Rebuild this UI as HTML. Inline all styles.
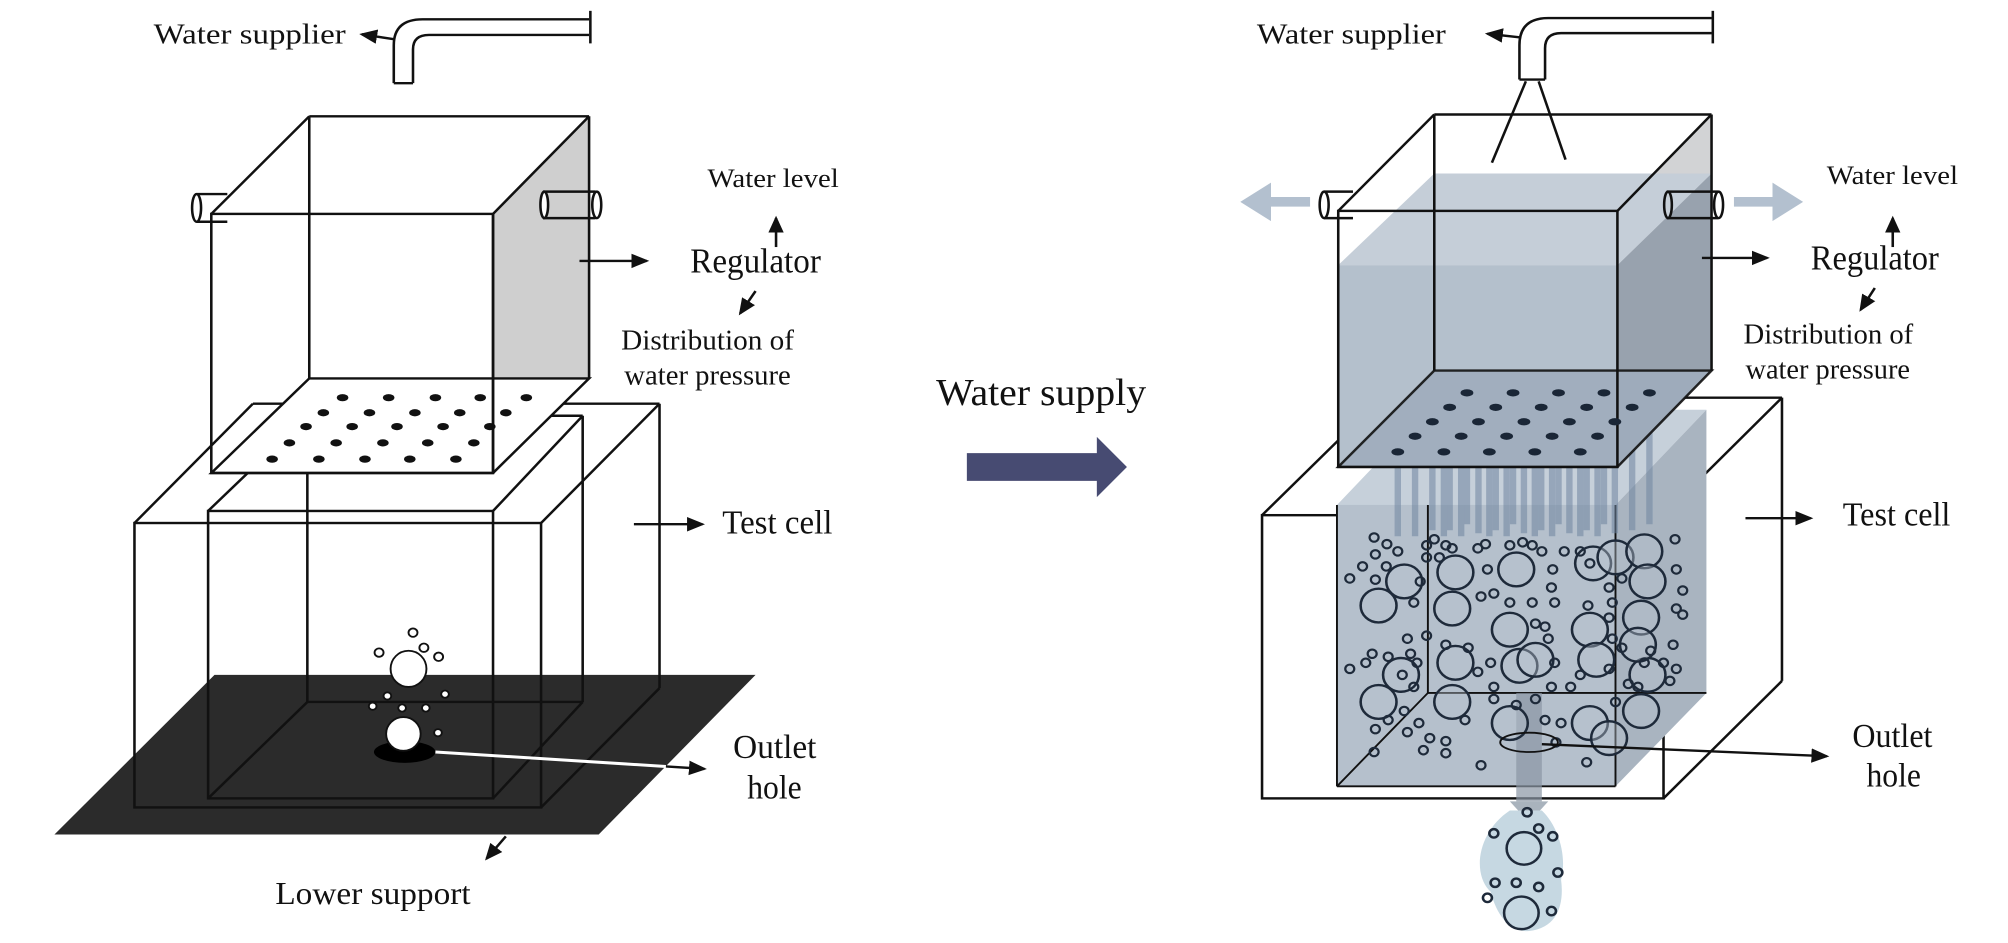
<!DOCTYPE html>
<html><head><meta charset="utf-8"><style>
html,body{margin:0;padding:0;background:#fff;}
svg{display:block;}
text{font-family:"Liberation Serif",serif;fill:#111;}
</style></head><body>
<svg width="2008" height="943" viewBox="0 0 3136 1565" preserveAspectRatio="none" xmlns="http://www.w3.org/2000/svg">
<defs>
<marker id="ah" markerWidth="8" markerHeight="8" refX="6" refY="4" orient="auto" markerUnits="strokeWidth"><path d="M0,1 L7,4 L0,7 z" fill="#111"/></marker>
<marker id="fa" markerWidth="4" markerHeight="4" refX="2" refY="2" orient="auto" markerUnits="strokeWidth"><path d="M0,0 L3,2 L0,4 z" fill="#b3c0cf"/></marker>
</defs>
<g stroke="#111" stroke-width="4" fill="none">
<!-- LEFT -->
<text x="240" y="72" font-size="48" textLength="300" lengthAdjust="spacingAndGlyphs" stroke="none">Water supplier</text>
<line x1="615" y1="65" x2="565" y2="57" marker-end="url(#ah)"/>
<path d="M615,138 L615,75 Q615,32 660,32 L920,32"/>
<path d="M645,138 L645,82 Q645,58 670,58 L920,58"/>
<line x1="615" y1="138" x2="645" y2="138"/>
<line x1="922" y1="18" x2="922" y2="72"/>
<!-- base -->
<polygon points="85,1385 935,1385 1180,1120 335,1120" fill="#2b2b2b" stroke="none"/>
<!-- test cell outer -->
<rect x="210" y="868" width="635" height="472"/>
<line x1="210" y1="868" x2="395" y2="670"/>
<line x1="845" y1="868" x2="1030" y2="670"/>
<line x1="845" y1="1340" x2="1030" y2="1142"/>
<line x1="395" y1="670" x2="1030" y2="670"/>
<line x1="1030" y1="670" x2="1030" y2="1142"/>
<!-- inner -->
<rect x="325" y="848" width="445" height="477"/>
<line x1="325" y1="848" x2="480" y2="690"/>
<line x1="770" y1="848" x2="910" y2="690"/>
<line x1="770" y1="1325" x2="910" y2="1165"/>
<line x1="325" y1="1325" x2="480" y2="1165"/>
<line x1="480" y1="690" x2="910" y2="690"/>
<line x1="480" y1="690" x2="480" y2="1165"/>
<line x1="910" y1="690" x2="910" y2="1165"/>
<line x1="480" y1="1165" x2="910" y2="1165"/>
<!-- upper box -->
<polygon points="770,355 920,193 920,628 770,785" fill="#cfcfcf" stroke="none"/>
<path d="M307,322 L355,322 M307,368 L355,368"/><ellipse cx="307" cy="345" rx="7" ry="23" fill="#fff"/>
<polygon points="330,785 770,785 920,628 483,628" fill="#fff"/>
<rect x="330" y="355" width="440" height="430"/>
<line x1="330" y1="355" x2="483" y2="193"/>
<line x1="770" y1="355" x2="920" y2="193"/>
<line x1="483" y1="193" x2="920" y2="193"/>
<line x1="483" y1="193" x2="483" y2="628"/>
<line x1="920" y1="193" x2="920" y2="628"/>
<line x1="770" y1="785" x2="770" y2="355"/>
<path d="M848,318 L930,318 M848,362 L930,362" /><ellipse cx="850" cy="340" rx="6" ry="22" fill="#fff"/><ellipse cx="932" cy="340" rx="7" ry="22" fill="#fff"/>
<g fill="#111" stroke="none">
<ellipse cx="535" cy="660" rx="9" ry="6"/><ellipse cx="607" cy="660" rx="9" ry="6"/><ellipse cx="680" cy="660" rx="9" ry="6"/><ellipse cx="750" cy="660" rx="9" ry="6"/><ellipse cx="822" cy="660" rx="9" ry="6"/>
<ellipse cx="505" cy="685" rx="9" ry="6"/><ellipse cx="577" cy="685" rx="9" ry="6"/><ellipse cx="648" cy="685" rx="9" ry="6"/><ellipse cx="718" cy="685" rx="9" ry="6"/><ellipse cx="790" cy="685" rx="9" ry="6"/>
<ellipse cx="478" cy="708" rx="9" ry="6"/><ellipse cx="550" cy="708" rx="9" ry="6"/><ellipse cx="620" cy="708" rx="9" ry="6"/><ellipse cx="692" cy="708" rx="9" ry="6"/><ellipse cx="765" cy="708" rx="9" ry="6"/>
<ellipse cx="452" cy="735" rx="9" ry="6"/><ellipse cx="525" cy="735" rx="9" ry="6"/><ellipse cx="598" cy="735" rx="9" ry="6"/><ellipse cx="668" cy="735" rx="9" ry="6"/><ellipse cx="740" cy="735" rx="9" ry="6"/>
<ellipse cx="425" cy="762" rx="9" ry="6"/><ellipse cx="498" cy="762" rx="9" ry="6"/><ellipse cx="570" cy="762" rx="9" ry="6"/><ellipse cx="640" cy="762" rx="9" ry="6"/><ellipse cx="712" cy="762" rx="9" ry="6"/>
</g>
<!-- balls -->
<ellipse cx="632" cy="1248" rx="48" ry="18" fill="#000" stroke="none"/>
<g fill="#fff" stroke="#111" stroke-width="3">
<ellipse cx="638" cy="1110" rx="28" ry="30"/><ellipse cx="630" cy="1218" rx="27" ry="28"/>
<circle cx="645" cy="1050" r="7"/><circle cx="592" cy="1083" r="7"/><circle cx="662" cy="1075" r="7"/><circle cx="685" cy="1090" r="7"/>
<circle cx="605" cy="1155" r="6"/><circle cx="695" cy="1152" r="6"/><circle cx="582" cy="1172" r="6"/><circle cx="628" cy="1175" r="6"/><circle cx="665" cy="1175" r="6"/><circle cx="684" cy="1216" r="6"/>
</g>
<line x1="680" y1="1248" x2="1040" y2="1272" stroke="#fff" stroke-width="5"/>
<line x1="1040" y1="1272" x2="1100" y2="1276" marker-end="url(#ah)"/>
<!-- labels left -->
<text x="1105" y="310" font-size="44" textLength="205" lengthAdjust="spacingAndGlyphs" stroke="none">Water level</text>
<line x1="1212" y1="410" x2="1212" y2="362" marker-end="url(#ah)"/>
<text x="1078" y="452" font-size="58" textLength="204" lengthAdjust="spacingAndGlyphs" stroke="none">Regulator</text>
<line x1="905" y1="433" x2="1010" y2="433" marker-end="url(#ah)"/>
<line x1="1180" y1="483" x2="1156" y2="520" marker-end="url(#ah)"/>
<text x="970" y="580" font-size="48" textLength="270" lengthAdjust="spacingAndGlyphs" stroke="none">Distribution of</text>
<text x="975" y="638" font-size="48" textLength="260" lengthAdjust="spacingAndGlyphs" stroke="none">water pressure</text>
<text x="1128" y="885" font-size="56" textLength="172" lengthAdjust="spacingAndGlyphs" stroke="none">Test cell</text>
<line x1="990" y1="870" x2="1097" y2="870" marker-end="url(#ah)"/>
<text x="1145" y="1258" font-size="56" textLength="130" lengthAdjust="spacingAndGlyphs" stroke="none">Outlet</text>
<text x="1167" y="1325" font-size="56" textLength="85" lengthAdjust="spacingAndGlyphs" stroke="none">hole</text>
<line x1="790" y1="1388" x2="760" y2="1425" marker-end="url(#ah)"/>
<text x="430" y="1500" font-size="52" textLength="305" lengthAdjust="spacingAndGlyphs" stroke="none">Lower support</text>
<!-- MIDDLE -->
<text x="1462" y="672" font-size="64" textLength="328" lengthAdjust="spacingAndGlyphs" stroke="none">Water supply</text>
<polygon points="1510,752 1713,752 1713,725 1760,775 1713,825 1713,798 1510,798" fill="#474b72" stroke="none"/>
<!-- RIGHT -->
<g transform="translate(1568,0)">
<text x="395" y="72" font-size="48" textLength="295" lengthAdjust="spacingAndGlyphs" stroke="none">Water supplier</text>
<line x1="805" y1="62" x2="755" y2="56" marker-end="url(#ah)"/>
<path d="M805,132 L805,75 Q805,30 850,30 L1105,30"/>
<path d="M845,132 L845,80 Q845,55 870,55 L1105,55"/>
<line x1="805" y1="132" x2="845" y2="132"/>
<line x1="1107" y1="18" x2="1107" y2="72"/>
<line x1="815" y1="135" x2="762" y2="270"/><line x1="835" y1="135" x2="877" y2="265"/>
<!-- test cell outer -->
<rect x="403" y="855" width="627" height="470"/>
<line x1="403" y1="855" x2="590" y2="660"/>
<line x1="1030" y1="855" x2="1215" y2="660"/>
<line x1="1030" y1="1325" x2="1215" y2="1130"/>
<line x1="590" y1="660" x2="1215" y2="660"/>
<line x1="1215" y1="660" x2="1215" y2="1130"/>
<!-- inner filled -->
<polygon points="520,838 955,838 1097,680 662,680" fill="#c6d0da" stroke="none"/>
<polygon points="955,838 1097,680 1097,1150 955,1305" fill="#a9b4c0" stroke="none"/>
<rect x="520" y="838" width="435" height="467" fill="#b5c0cc" stroke="none"/>
<g stroke-width="3">
<line x1="662" y1="838" x2="662" y2="1150"/><line x1="662" y1="1150" x2="1097" y2="1150"/><line x1="520" y1="1305" x2="662" y2="1150"/>
<line x1="520" y1="838" x2="520" y2="1305"/><line x1="520" y1="1305" x2="955" y2="1305"/><line x1="955" y1="838" x2="955" y2="1305"/>
</g>
<!-- drain -->
<rect x="800" y="1150" width="40" height="180" fill="#8a96a4" opacity="0.7" stroke="none"/>
<polygon points="790,1330 850,1330 820,1365" fill="#a9b3bd" stroke="none"/>
<path d="M790,1345 C740,1380 730,1450 760,1480 C770,1520 790,1548 820,1545 C865,1540 875,1500 870,1460 C880,1420 865,1370 840,1345 Z" fill="#c6d8e2" stroke="none"/>
<g stroke="#1e2a3a" stroke-width="4" fill="none">
<circle cx="812" cy="1408" r="27"/><circle cx="808" cy="1515" r="27"/>
<circle cx="817" cy="1348" r="7"/><circle cx="765" cy="1383" r="7"/><circle cx="835" cy="1375" r="7"/><circle cx="857" cy="1388" r="7"/><circle cx="767" cy="1465" r="7"/><circle cx="800" cy="1465" r="7"/><circle cx="835" cy="1472" r="7"/><circle cx="865" cy="1448" r="7"/><circle cx="755" cy="1490" r="7"/><circle cx="855" cy="1512" r="7"/>
</g>
<!-- rods -->
<g stroke="#6f85a0" stroke-width="10" opacity="0.55">
<line x1="723" y1="652" x2="723" y2="870"/><line x1="795" y1="652" x2="795" y2="870"/><line x1="866" y1="652" x2="866" y2="870"/><line x1="937" y1="652" x2="937" y2="870"/><line x1="1008" y1="652" x2="1008" y2="870"/>
<line x1="696" y1="676" x2="696" y2="880"/><line x1="768" y1="676" x2="768" y2="880"/><line x1="839" y1="676" x2="839" y2="880"/><line x1="910" y1="676" x2="910" y2="880"/><line x1="981" y1="676" x2="981" y2="880"/>
<line x1="669" y1="700" x2="669" y2="880"/><line x1="741" y1="700" x2="741" y2="885"/><line x1="812" y1="700" x2="812" y2="885"/><line x1="883" y1="700" x2="883" y2="885"/><line x1="954" y1="700" x2="954" y2="885"/>
<line x1="642" y1="724" x2="642" y2="890"/><line x1="714" y1="724" x2="714" y2="890"/><line x1="785" y1="724" x2="785" y2="890"/><line x1="856" y1="724" x2="856" y2="890"/><line x1="927" y1="724" x2="927" y2="890"/>
<line x1="615" y1="750" x2="615" y2="890"/><line x1="687" y1="750" x2="687" y2="890"/><line x1="758" y1="750" x2="758" y2="890"/><line x1="829" y1="750" x2="829" y2="890"/><line x1="900" y1="750" x2="900" y2="890"/>
</g>
<!-- upper box with water -->
<polygon points="958,350 1105,190 1105,615 958,775" fill="#d2d3d5" stroke="none"/>
<polygon points="958,440 1105,288 1105,615 958,775" fill="#98a2ae" stroke="none"/>
<polygon points="522,440 958,440 1105,288 672,288" fill="#c5ced8" stroke="none"/>
<rect x="522" y="440" width="436" height="335" fill="#b4c0cc" stroke="none"/>
<path d="M500,318 L545,318 M500,362 L545,362"/><ellipse cx="500" cy="340" rx="7" ry="22" fill="#fff"/>
<polygon points="522,775 958,775 1105,615 672,615" fill="#9fadbd" opacity="0.9"/>
<rect x="522" y="350" width="436" height="425"/>
<line x1="522" y1="350" x2="672" y2="190"/>
<line x1="958" y1="350" x2="1105" y2="190"/>
<line x1="672" y1="190" x2="1105" y2="190"/>
<line x1="672" y1="190" x2="672" y2="615"/>
<line x1="1105" y1="190" x2="1105" y2="615"/>
<path d="M1035,318 L1115,318 M1035,362 L1115,362"/><ellipse cx="1037" cy="340" rx="6" ry="22" fill="#c8d0d8"/><ellipse cx="1116" cy="340" rx="7" ry="22" fill="#fff"/>
<line x1="478" y1="335" x2="385" y2="335" stroke="#b3c0cf" stroke-width="16" marker-end="url(#fa)"/>
<line x1="1140" y1="335" x2="1232" y2="335" stroke="#b3c0cf" stroke-width="16" marker-end="url(#fa)"/>
<g fill="#1a2636" stroke="none">
<ellipse cx="723" cy="652" rx="10" ry="6"/><ellipse cx="795" cy="652" rx="10" ry="6"/><ellipse cx="866" cy="652" rx="10" ry="6"/><ellipse cx="937" cy="652" rx="10" ry="6"/><ellipse cx="1008" cy="652" rx="10" ry="6"/>
<ellipse cx="696" cy="676" rx="10" ry="6"/><ellipse cx="768" cy="676" rx="10" ry="6"/><ellipse cx="839" cy="676" rx="10" ry="6"/><ellipse cx="910" cy="676" rx="10" ry="6"/><ellipse cx="981" cy="676" rx="10" ry="6"/>
<ellipse cx="669" cy="700" rx="10" ry="6"/><ellipse cx="741" cy="700" rx="10" ry="6"/><ellipse cx="812" cy="700" rx="10" ry="6"/><ellipse cx="883" cy="700" rx="10" ry="6"/><ellipse cx="954" cy="700" rx="10" ry="6"/>
<ellipse cx="642" cy="724" rx="10" ry="6"/><ellipse cx="714" cy="724" rx="10" ry="6"/><ellipse cx="785" cy="724" rx="10" ry="6"/><ellipse cx="856" cy="724" rx="10" ry="6"/><ellipse cx="927" cy="724" rx="10" ry="6"/>
<ellipse cx="615" cy="750" rx="10" ry="6"/><ellipse cx="687" cy="750" rx="10" ry="6"/><ellipse cx="758" cy="750" rx="10" ry="6"/><ellipse cx="829" cy="750" rx="10" ry="6"/><ellipse cx="900" cy="750" rx="10" ry="6"/>
</g>
<!-- bubbles -->
<g stroke="#1e2a3a" stroke-width="4" fill="#b8c3cf" fill-opacity="0.4">
<circle cx="625" cy="965" r="28"/><circle cx="585" cy="1005" r="28"/><circle cx="705" cy="950" r="28"/><circle cx="700" cy="1010" r="28"/><circle cx="800" cy="945" r="28"/><circle cx="920" cy="935" r="28"/><circle cx="955" cy="925" r="28"/><circle cx="1000" cy="915" r="28"/><circle cx="1005" cy="965" r="28"/><circle cx="995" cy="1025" r="28"/><circle cx="790" cy="1045" r="28"/><circle cx="915" cy="1045" r="28"/><circle cx="705" cy="1100" r="28"/><circle cx="805" cy="1105" r="28"/><circle cx="925" cy="1095" r="28"/><circle cx="1005" cy="1120" r="28"/><circle cx="585" cy="1165" r="28"/><circle cx="700" cy="1165" r="28"/><circle cx="790" cy="1200" r="28"/><circle cx="915" cy="1200" r="28"/><circle cx="995" cy="1180" r="28"/><circle cx="620" cy="1120" r="28"/><circle cx="945" cy="1225" r="28"/><circle cx="830" cy="1095" r="28"/><circle cx="990" cy="1070" r="28"/>
</g>
<g stroke="#1e2a3a" stroke-width="3.5" fill="none">
<circle cx="540" cy="960" r="7"/><circle cx="560" cy="940" r="7"/><circle cx="578" cy="892" r="7"/><circle cx="598" cy="903" r="7"/><circle cx="580" cy="920" r="7"/><circle cx="597" cy="940" r="7"/><circle cx="615" cy="915" r="7"/><circle cx="640" cy="1000" r="7"/><circle cx="580" cy="962" r="7"/><circle cx="650" cy="965" r="7"/><circle cx="660" cy="905" r="7"/><circle cx="672" cy="895" r="7"/><circle cx="690" cy="905" r="7"/><circle cx="660" cy="925" r="7"/><circle cx="680" cy="925" r="7"/><circle cx="700" cy="910" r="7"/><circle cx="740" cy="910" r="7"/><circle cx="752" cy="903" r="7"/><circle cx="755" cy="945" r="7"/><circle cx="745" cy="990" r="7"/><circle cx="765" cy="985" r="7"/><circle cx="790" cy="905" r="7"/><circle cx="810" cy="900" r="7"/><circle cx="825" cy="905" r="7"/><circle cx="840" cy="915" r="7"/><circle cx="857" cy="945" r="7"/><circle cx="855" cy="975" r="7"/><circle cx="875" cy="915" r="7"/><circle cx="860" cy="1000" r="7"/><circle cx="900" cy="915" r="7"/><circle cx="915" cy="935" r="7"/><circle cx="945" cy="975" r="7"/><circle cx="950" cy="1000" r="7"/><circle cx="965" cy="960" r="7"/><circle cx="1048" cy="895" r="7"/><circle cx="1050" cy="945" r="7"/><circle cx="1060" cy="980" r="7"/><circle cx="1050" cy="1010" r="7"/><circle cx="1060" cy="1020" r="7"/><circle cx="1045" cy="1070" r="7"/><circle cx="1050" cy="1110" r="7"/><circle cx="1040" cy="1130" r="7"/><circle cx="540" cy="1110" r="7"/><circle cx="565" cy="1100" r="7"/><circle cx="575" cy="1085" r="7"/><circle cx="600" cy="1090" r="7"/><circle cx="630" cy="1060" r="7"/><circle cx="635" cy="1085" r="7"/><circle cx="645" cy="1100" r="7"/><circle cx="640" cy="1140" r="7"/><circle cx="660" cy="1055" r="7"/><circle cx="690" cy="1070" r="7"/><circle cx="725" cy="1075" r="7"/><circle cx="740" cy="1115" r="7"/><circle cx="760" cy="1100" r="7"/><circle cx="765" cy="1140" r="7"/><circle cx="790" cy="1000" r="7"/><circle cx="825" cy="1000" r="7"/><circle cx="830" cy="1035" r="7"/><circle cx="845" cy="1040" r="7"/><circle cx="850" cy="1060" r="7"/><circle cx="860" cy="1100" r="7"/><circle cx="855" cy="1140" r="7"/><circle cx="885" cy="1140" r="7"/><circle cx="900" cy="1120" r="7"/><circle cx="912" cy="1005" r="7"/><circle cx="945" cy="1025" r="7"/><circle cx="950" cy="1060" r="7"/><circle cx="965" cy="1075" r="7"/><circle cx="945" cy="1110" r="7"/><circle cx="975" cy="1135" r="7"/><circle cx="990" cy="1140" r="7"/><circle cx="1010" cy="1080" r="7"/><circle cx="1030" cy="1100" r="7"/><circle cx="580" cy="1210" r="7"/><circle cx="600" cy="1195" r="7"/><circle cx="625" cy="1180" r="7"/><circle cx="630" cy="1215" r="7"/><circle cx="648" cy="1200" r="7"/><circle cx="655" cy="1245" r="7"/><circle cx="665" cy="1225" r="7"/><circle cx="690" cy="1230" r="7"/><circle cx="720" cy="1195" r="7"/><circle cx="765" cy="1160" r="7"/><circle cx="800" cy="1170" r="7"/><circle cx="830" cy="1160" r="7"/><circle cx="845" cy="1195" r="7"/><circle cx="870" cy="1200" r="7"/><circle cx="862" cy="1232" r="7"/><circle cx="910" cy="1265" r="7"/><circle cx="745" cy="1270" r="7"/><circle cx="690" cy="1250" r="7"/><circle cx="578" cy="1248" r="7"/><circle cx="955" cy="1165" r="7"/><circle cx="1000" cy="1100" r="7"/><circle cx="622" cy="1120" r="7"/>
</g>
<ellipse cx="820" cy="1232" rx="45" ry="16" stroke-width="3"/>
<line x1="840" y1="1235" x2="1285" y2="1255" marker-end="url(#ah)"/>
<!-- labels right -->
<text x="1285" y="305" font-size="44" textLength="205" lengthAdjust="spacingAndGlyphs" stroke="none">Water level</text>
<line x1="1388" y1="410" x2="1388" y2="362" marker-end="url(#ah)"/>
<text x="1260" y="447" font-size="58" textLength="200" lengthAdjust="spacingAndGlyphs" stroke="none">Regulator</text>
<line x1="1090" y1="428" x2="1192" y2="428" marker-end="url(#ah)"/>
<line x1="1360" y1="478" x2="1338" y2="514" marker-end="url(#ah)"/>
<text x="1155" y="570" font-size="48" textLength="265" lengthAdjust="spacingAndGlyphs" stroke="none">Distribution of</text>
<text x="1158" y="628" font-size="48" textLength="257" lengthAdjust="spacingAndGlyphs" stroke="none">water pressure</text>
<text x="1310" y="872" font-size="56" textLength="168" lengthAdjust="spacingAndGlyphs" stroke="none">Test cell</text>
<line x1="1158" y1="860" x2="1260" y2="860" marker-end="url(#ah)"/>
<text x="1325" y="1240" font-size="56" textLength="125" lengthAdjust="spacingAndGlyphs" stroke="none">Outlet</text>
<text x="1347" y="1305" font-size="56" textLength="85" lengthAdjust="spacingAndGlyphs" stroke="none">hole</text>
</g>
</g>
</svg>
</body></html>
